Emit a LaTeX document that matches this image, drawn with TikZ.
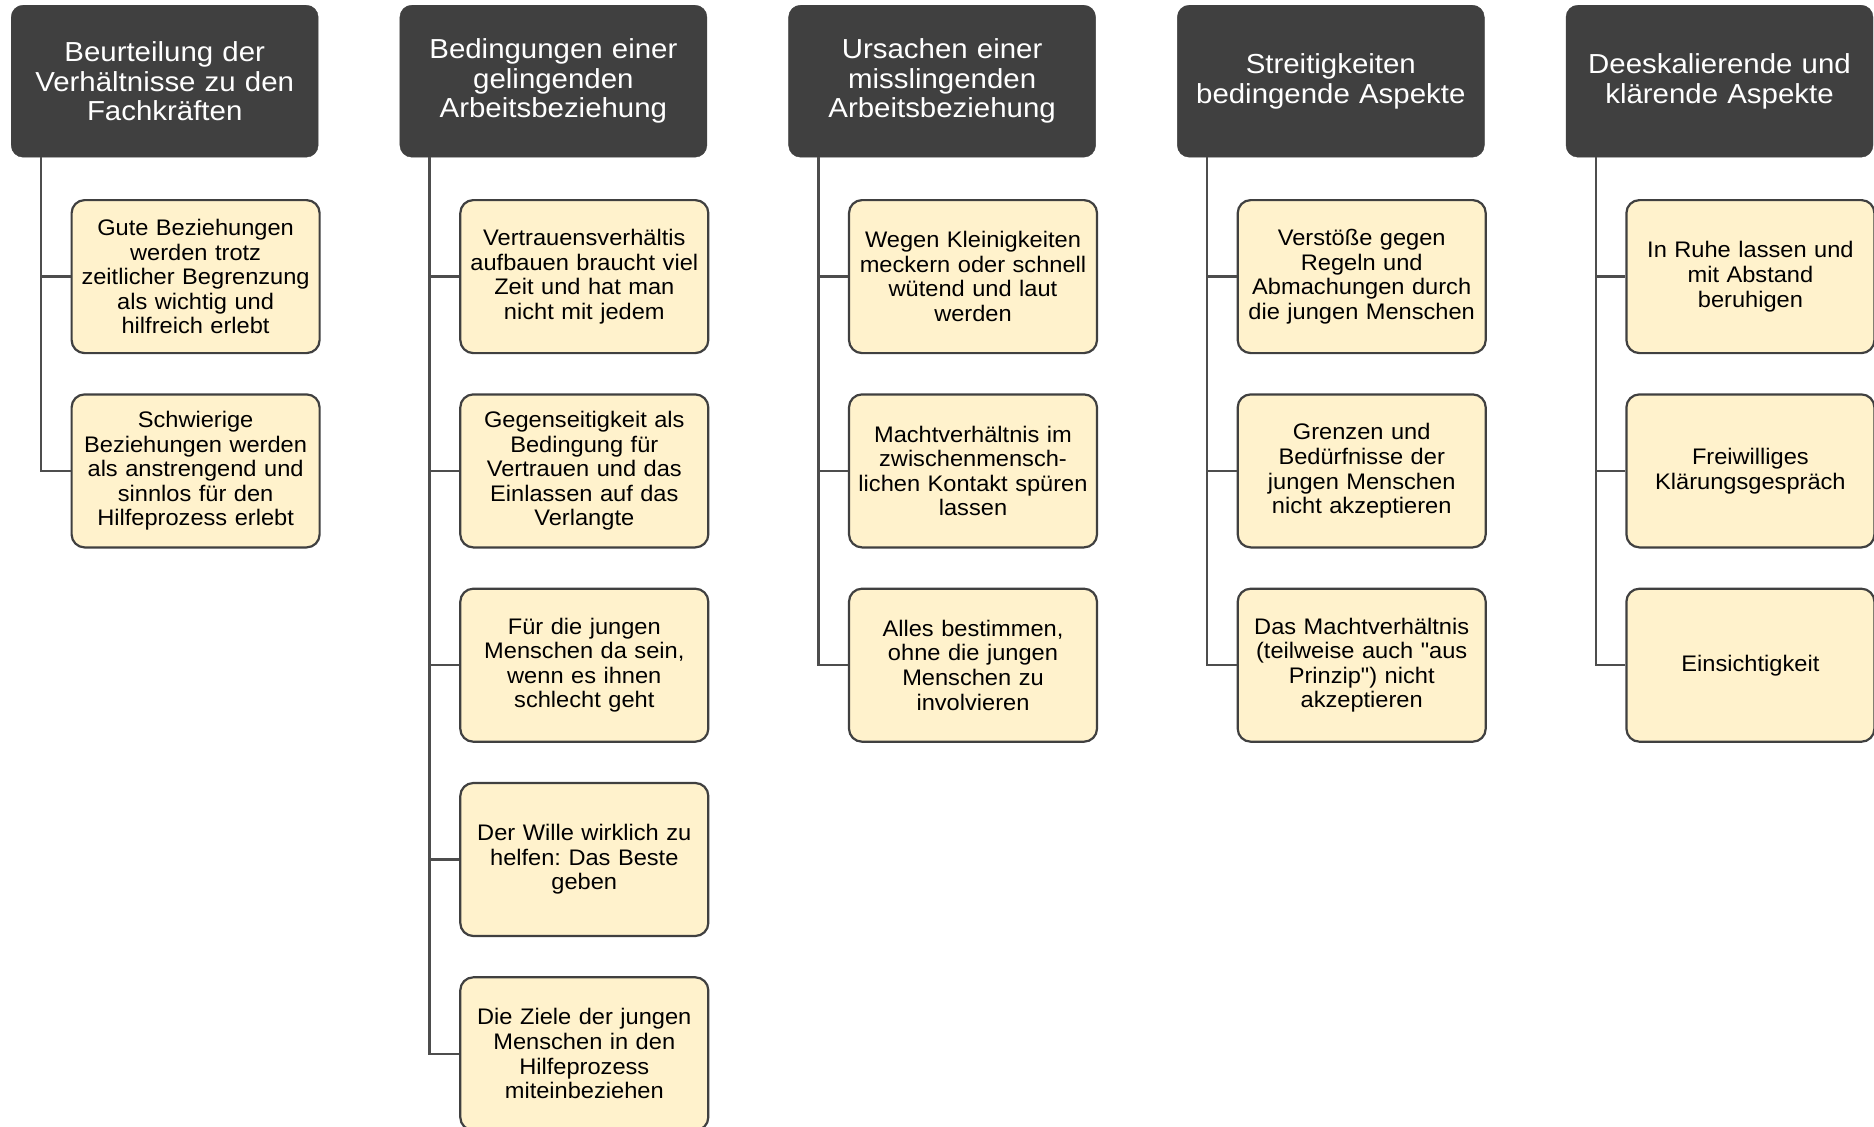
\documentclass[tikz,border=0pt]{standalone}
\usepackage{fontspec}
\setmainfont{Liberation Sans}
\newfontfamily\hdrfont{Liberation Sans}[FakeStretch=1.07]
\newfontfamily\chfont{Liberation Sans}[FakeStretch=1.05]
\definecolor{hdrfill}{HTML}{404040}
\definecolor{leaffill}{HTML}{FFF2CC}
\definecolor{leafdraw}{HTML}{404040}
\definecolor{linkc}{HTML}{4D4D4D}
\frenchspacing
\begin{document}
\begin{tikzpicture}[x=1pt,y=-1pt,
  hdr/.style={anchor=north west, fill=hdrfill, draw=hdrfill, rounded corners=12pt,
    minimum width=307pt, minimum height=152pt, text width=297pt, inner sep=5pt,
    align=center, text=white, font=\hdrfont\fontsize{27.5}{29.5}\selectfont},
  leaf/.style={anchor=north west, fill=leaffill, draw=leafdraw, line width=2.2pt,
    rounded corners=13pt, minimum width=248pt, minimum height=153pt,
    text width=244pt, inner sep=2pt, align=center,
    font=\chfont\fontsize{22.5}{24.6}\selectfont},
  link/.style={draw=linkc, line width=2.5pt}]
\fill[white] (0,0) rectangle (1874,1127);
\useasboundingbox (0,0) rectangle (1874,1127);

% Column 1
\node[hdr] (h1) at (11,5) {Beurteilung der\\Verhältnisse zu den\\Fachkräften};
\node[leaf] (c1a) at (70.5,199) {Gute Beziehungen\\werden trotz\\zeitlicher Begrenzung\\als wichtig und\\hilfreich erlebt};
\node[leaf] (c1b) at (70.5,393.3) {Schwierige\\Beziehungen werden\\als anstrengend und\\sinnlos für den\\Hilfeprozess erlebt};

% Column 2
\node[hdr] (h2) at (399.7,5) {Bedingungen einer\\gelingenden\\Arbeitsbeziehung};
\node[leaf] (c2a) at (459.2,199) {Vertrauensverhältis\\aufbauen braucht viel\\Zeit und hat man\\nicht mit jedem};
\node[leaf] (c2b) at (459.2,393.3) {Gegenseitigkeit als\\Bedingung für\\Vertrauen und das\\Einlassen auf das\\Verlangte};
\node[leaf] (c2c) at (459.2,587.6) {Für die jungen\\Menschen da sein,\\wenn es ihnen\\schlecht geht};
\node[leaf] (c2d) at (459.2,781.9) {Der Wille wirklich zu\\helfen: Das Beste\\geben};
\node[leaf] (c2e) at (459.2,976.2) {Die Ziele der jungen\\Menschen in den\\Hilfeprozess\\miteinbeziehen};

% Column 3
\node[hdr] (h3) at (788.4,5) {Ursachen einer\\misslingenden\\Arbeitsbeziehung};
\node[leaf] (c3a) at (847.9,199) {Wegen Kleinigkeiten\\meckern oder schnell\\wütend und laut\\werden};
\node[leaf] (c3b) at (847.9,393.3) {Machtverhältnis im\\zwischenmensch-\\lichen Kontakt spüren\\lassen};
\node[leaf] (c3c) at (847.9,587.6) {Alles bestimmen,\\ohne die jungen\\Menschen zu\\involvieren};

% Column 4
\node[hdr] (h4) at (1177.1,5) {Streitigkeiten\\bedingende Aspekte};
\node[leaf] (c4a) at (1236.6,199) {Verstöße gegen\\Regeln und\\Abmachungen durch\\die jungen Menschen};
\node[leaf] (c4b) at (1236.6,393.3) {Grenzen und\\Bedürfnisse der\\jungen Menschen\\nicht akzeptieren};
\node[leaf] (c4c) at (1236.6,587.6) {Das Machtverhältnis\\(teilweise auch "aus\\Prinzip") nicht\\akzeptieren};

% Column 5
\node[hdr] (h5) at (1565.8,5) {Deeskalierende und\\klärende Aspekte};
\node[leaf] (c5a) at (1625.3,199) {In Ruhe lassen und\\mit Abstand\\beruhigen};
\node[leaf] (c5b) at (1625.3,393.3) {Freiwilliges\\Klärungsgespräch};
\node[leaf] (c5c) at (1625.3,587.6) {Einsichtigkeit};

% Connectors
\foreach \h/\c in {h1/c1a,h1/c1b,
                   h2/c2a,h2/c2b,h2/c2c,h2/c2d,h2/c2e,
                   h3/c3a,h3/c3b,h3/c3c,
                   h4/c4a,h4/c4b,h4/c4c,
                   h5/c5a,h5/c5b,h5/c5c}
  \draw[link] ([xshift=30pt]\h.south west) |- (\c.west);
\end{tikzpicture}
\end{document}
